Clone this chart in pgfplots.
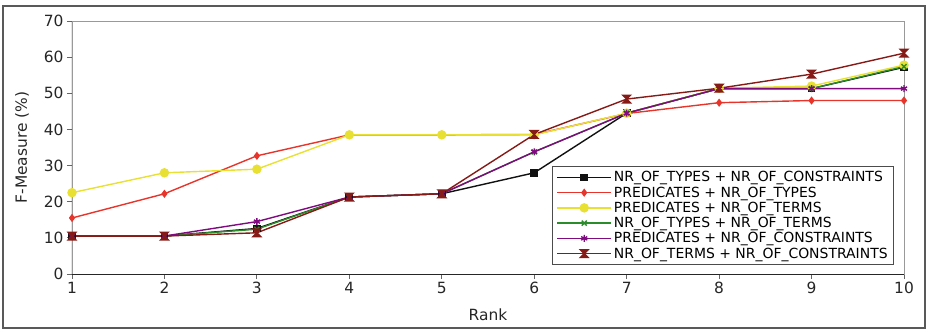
\documentclass[border=0pt]{standalone}
\usepackage{fontspec}
\setmainfont{DejaVu Sans}
\usepackage{pgfplots}
\pgfplotsset{compat=1.18}
\definecolor{cblack}{HTML}{111111}
\definecolor{cred}{HTML}{E8352B}
\definecolor{cyellow}{HTML}{E8E032}
\definecolor{cgreen}{HTML}{2A8C2A}
\definecolor{cpurple}{HTML}{800A80}
\definecolor{cbrown}{HTML}{861A16}
\pgfdeclareplotmark{hourglass}{%
  \pgfpathmoveto{\pgfqpoint{-\pgfplotmarksize}{\pgfplotmarksize}}%
  \pgfpathlineto{\pgfqpoint{\pgfplotmarksize}{\pgfplotmarksize}}%
  \pgfpathlineto{\pgfqpoint{-\pgfplotmarksize}{-\pgfplotmarksize}}%
  \pgfpathlineto{\pgfqpoint{\pgfplotmarksize}{-\pgfplotmarksize}}%
  \pgfpathclose\pgfusepathqfillstroke}
\begin{document}
\begin{tikzpicture}[x=1bp,y=1bp]
\useasboundingbox (-72,-56) rectangle (856,274);
\draw[black!65, line width=1.3bp] (-69,-54) rectangle (853,268);
\begin{axis}[
  at={(0,0)}, anchor=south west,
  scale only axis, width=832bp, height=253bp,
  xmin=1, xmax=10, ymin=0, ymax=70,
  xtick={1,2,...,10}, ytick={0,10,...,70},
  tick align=outside, tick pos=left,
  major tick length=5bp,
  tick style={black!60, line width=0.8bp},
  axis line style={black!40, line width=0.9bp},
  /pgf/number format/assume math mode=true,
  ticklabel style={font=\fontsize{15.5}{18}\selectfont, text=black!85},
  label style={font=\fontsize{15.5}{18}\selectfont, text=black!85},
  xlabel={Rank}, ylabel={F-Measure (\%)},
  xlabel style={yshift=-8bp},
  ylabel style={yshift=8bp},
  every axis plot/.append style={line width=1.4bp},
  legend cell align=left,
  legend style={at={(0.988,0.036)}, anchor=south east,
    draw=black!70, line width=0.8bp, fill=white,
    font=\fontsize{14}{16.5}\selectfont, row sep=-0.6bp,
    inner xsep=4bp, inner ysep=3bp},
  legend image code/.code={%
    \draw[mark repeat=2,mark phase=2] plot coordinates {(0bp,0bp) (27bp,0bp) (54bp,0bp)};},
]
\addplot[cblack, mark=square*, mark size=3.2bp, mark options={solid}] coordinates {
(1,10.5) (2,10.5) (3,12.6) (4,21.3) (5,22.2) (6,28.0) (7,44.5) (8,51.3) (9,51.3) (10,57.2)};
\addlegendentry{NR\_OF\_TYPES + NR\_OF\_CONSTRAINTS}
\addplot[cred, mark=diamond*, mark size=3.0bp] coordinates {
(1,15.5) (2,22.2) (3,32.7) (4,38.5) (5,38.5) (6,38.6) (7,44.4) (8,47.4) (9,48.0) (10,48.0)};
\addlegendentry{PREDICATES + NR\_OF\_TYPES}
\addplot[cyellow, mark=*, mark size=4.0bp] coordinates {
(1,22.5) (2,28.0) (3,29.0) (4,38.5) (5,38.5) (6,38.5) (7,44.5) (8,51.4) (9,52.0) (10,57.8)};
\addlegendentry{PREDICATES + NR\_OF\_TERMS}
\addplot[cgreen, mark=x, mark size=3.5bp] coordinates {
(1,10.5) (2,10.5) (3,12.4) (4,21.3) (5,22.2) (6,33.8) (7,44.5) (8,51.3) (9,51.3) (10,57.4)};
\addlegendentry{NR\_OF\_TYPES + NR\_OF\_TERMS}
\addplot[cpurple, mark=asterisk, mark size=3.5bp] coordinates {
(1,10.5) (2,10.5) (3,14.5) (4,21.3) (5,22.2) (6,33.8) (7,44.5) (8,51.3) (9,51.3) (10,51.3)};
\addlegendentry{PREDICATES + NR\_OF\_CONSTRAINTS}
\addplot[cbrown, mark=hourglass, mark size=3.8bp] coordinates {
(1,10.5) (2,10.5) (3,11.4) (4,21.3) (5,22.2) (6,38.6) (7,48.4) (8,51.4) (9,55.3) (10,61.1)};
\addlegendentry{NR\_OF\_TERMS + NR\_OF\_CONSTRAINTS}
\draw[black!85, line width=1bp] (rel axis cs:0,1) -- (rel axis cs:0,0) -- (rel axis cs:1,0);
\end{axis}
\end{tikzpicture}
\end{document}
